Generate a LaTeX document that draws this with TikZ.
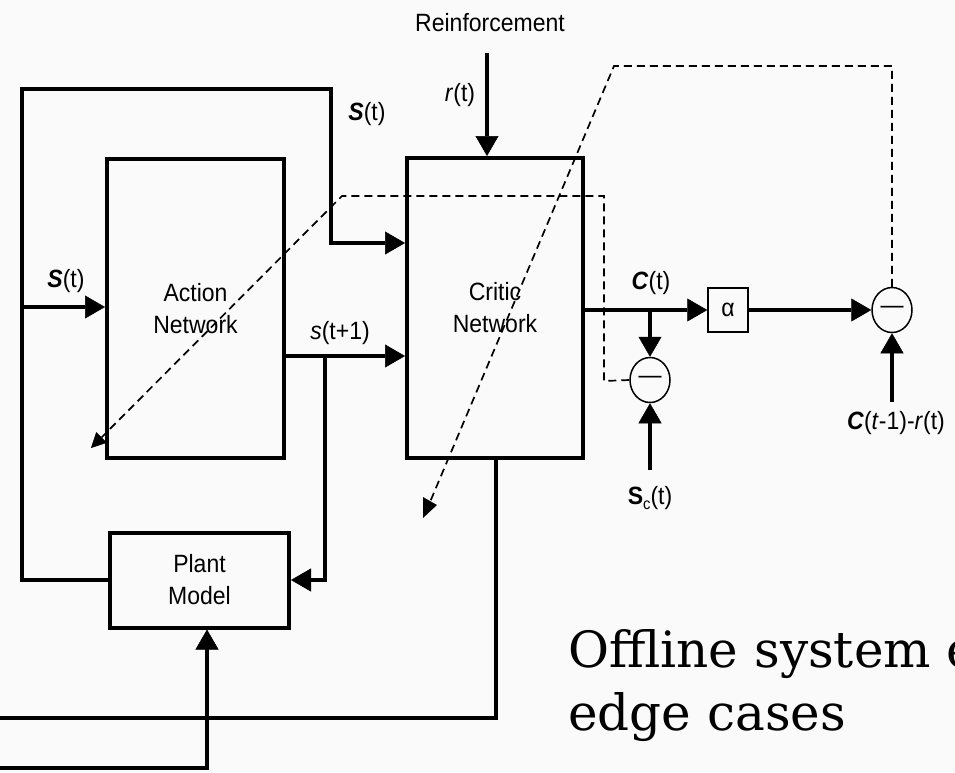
\documentclass[tikz,border=0pt]{standalone}
\usepackage{fontspec}
\setmainfont{Liberation Sans}[FakeStretch=0.92]
\newfontfamily\slab{DejaVu Serif}
\usetikzlibrary{arrows.meta,shapes.geometric}
\definecolor{bg}{RGB}{250,250,250}
\begin{document}
\begin{tikzpicture}[x=1pt,y=-1pt,
  lbl/.style={font=\fontsize{25}{31}\selectfont, inner sep=0pt},
  blk/.style={draw, line width=4pt, align=center, font=\fontsize{25}{32}\selectfont, inner sep=0pt},
  thk/.style={line width=4pt},
  arr/.style={thk, -{Triangle[length=20pt,width=23pt,line width=0.5pt]}},
  dsh/.style={line width=1.7pt, dash pattern=on 8pt off 5pt},
  darr/.style={dsh, -{Triangle[length=15pt,width=15pt,line width=0.5pt]}},
  sumc/.style={draw, ellipse, line width=1.5pt, minimum width=40pt, minimum height=45pt, inner sep=0pt, font=\fontsize{25}{25}\selectfont},
  big/.style={anchor=base west, inner sep=0pt, font=\slab\fontsize{50}{63}\selectfont}]
\fill[bg] (0,0) rectangle (955,772);
\useasboundingbox (0,0) rectangle (955,772);

% blocks
\node[blk, minimum width=177pt, minimum height=299pt] (action) at (195.5,308.5) {Action\\Network};
\node[blk, minimum width=176pt, minimum height=300pt] (critic) at (495,308) {Critic\\Network};
\node[blk, minimum width=179pt, minimum height=95pt] (plant) at (199.5,580) {Plant\\Model};
\node[draw, line width=1.5pt, minimum width=40pt, minimum height=44pt, inner sep=0pt, font=\fontsize{25}{25}\selectfont] (alpha) at (728,310) {α};
\node[sumc] (c1) at (892,310) {—};
\node[sumc] (c2) at (650,380) {—};

% coordinates
\coordinate (rtop) at (487,53);
\coordinate (ol1) at (22,580);
\coordinate (ol2) at (22,89);
\coordinate (ol3) at (331,89);
\coordinate (ol4) at (331,243);
\coordinate (sl) at (22,307);
\coordinate (sy) at (0,356);
\coordinate (br) at (325,356);
\coordinate (cy) at (0,310);
\coordinate (cin) at (892,402);
\coordinate (scin) at (650,470);
\coordinate (cb1) at (496,718);
\coordinate (cb2) at (0,718);
\coordinate (pb1) at (0,768);
\coordinate (pb2) at (207,768);
\coordinate (d1a) at (604,381);
\coordinate (d1b) at (604,196);
\coordinate (d1c) at (342,196);
\coordinate (d1e) at (91,448);
\coordinate (d2a) at (892,66);
\coordinate (d2b) at (614,66);
\coordinate (d2e) at (430,502);

% solid connectors
\draw[arr] (rtop) -- (rtop |- critic.north);
\draw[arr] (plant.west) -- (ol1) -- (ol2) -- (ol3) -- (ol4) -- (ol4 -| critic.west);
\draw[arr] (sl) -- (sl -| action.west);
\draw[arr] (sy -| action.east) -- (sy -| critic.west);
\draw[arr] (br) -- (br |- plant.east) -- (plant.east);
\draw[arr] (cy -| critic.east) -- (alpha.west);
\draw[arr] (cy -| c2.north) -- (c2.north);
\draw[arr] (alpha.east) -- (c1.west);
\draw[arr] (cin) -- (c1.south);
\draw[arr] (scin) -- (c2.south);
\draw[thk] (cb1 |- critic.south) -- (cb1) -- (cb2);
\draw[arr] (pb1) -- (pb2) -- (pb2 |- plant.south);

% dashed connectors
\draw[darr] (c2.west) -- (d1a) -- (d1b) -- (d1c) -- (d1e);
\draw[dsh] (c1.north) -- (d2a) -- (d2b) -- (d2e);
\fill (423,497) -- (437,505) -- (423,518) -- cycle;

% labels
\node[lbl] (lreinf) at (490,23) {Reinforcement};
\node[lbl] (lr) at (460,95) {\textit{r}(t)};
\node[lbl] (lstop) at (367,114) {\textbf{\textit{S}}(t)};
\node[lbl] (lsleft) at (66,281) {\textbf{\textit{S}}(t)};
\node[lbl] (lsnext) at (340,333) {\textit{s}(t+1)};
\node[lbl] (lc) at (651,283) {\textbf{\textit{C}}(t)};
\node[lbl] (lsc) at (650,498) {\textbf{S}\raisebox{-5pt}{\fontsize{16}{16}\selectfont c}(t)};
\node[lbl] (lcm) at (896,423) {\textbf{\textit{C}}(\textit{t}-1)-\textit{r}(t)};

\node[big] (t1) at (568,667) {Offline system e};
\node[big] (t2) at (568,730) {edge cases};
\end{tikzpicture}
\end{document}
